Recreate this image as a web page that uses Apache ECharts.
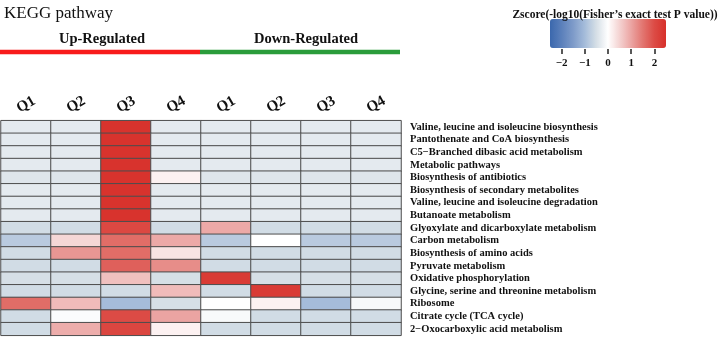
<!DOCTYPE html>
<html>
<head>
<meta charset="utf-8">
<script src="https://cdn.jsdelivr.net/npm/echarts@6/dist/echarts.min.js"></script>
<style>
html, body { margin: 0; padding: 0; background: #fff; }
#main { width: 720px; height: 338px; }
</style>
</head>
<body>
<div id="main"></div>
<script>
var quarters = ['Q1', 'Q2', 'Q3', 'Q4'];
var groups = ['Up-Regulated', 'Down-Regulated'];
var pathways = [
    'Valine, leucine and isoleucine biosynthesis',
    'Pantothenate and CoA biosynthesis',
    'C5\u2212Branched dibasic acid metabolism',
    'Metabolic pathways',
    'Biosynthesis of antibiotics',
    'Biosynthesis of secondary metabolites',
    'Valine, leucine and isoleucine degradation',
    'Butanoate metabolism',
    'Glyoxylate and dicarboxylate metabolism',
    'Carbon metabolism',
    'Biosynthesis of amino acids',
    'Pyruvate metabolism',
    'Oxidative phosphorylation',
    'Glycine, serine and threonine metabolism',
    'Ribosome',
    'Citrate cycle (TCA cycle)',
    '2\u2212Oxocarboxylic acid metabolism'
];
// z-scores per pathway: Up Q1..Q4, Down Q1..Q4
var zValinBio   = [-0.33, -0.33, 2.45, -0.33, -0.33, -0.33, -0.33, -0.33];
var zPanto      = [-0.33, -0.33, 2.45, -0.33, -0.33, -0.33, -0.33, -0.33];
var zC5         = [-0.33, -0.33, 2.45, -0.33, -0.33, -0.33, -0.33, -0.33];
var zMetabolic  = [-0.33, -0.33, 2.45, -0.33, -0.33, -0.33, -0.33, -0.33];
var zAntibio    = [-0.4, -0.4, 2.45, 0.15, -0.4, -0.4, -0.4, -0.4];
var zSecondary  = [-0.33, -0.33, 2.45, -0.33, -0.33, -0.33, -0.33, -0.33];
var zValinDeg   = [-0.33, -0.33, 2.45, -0.33, -0.33, -0.33, -0.33, -0.33];
var zButanoate  = [-0.33, -0.33, 2.45, -0.33, -0.33, -0.33, -0.33, -0.33];
var zGlyoxylate = [-0.55, -0.55, 2.05, -0.55, 0.95, -0.55, -0.55, -0.55];
var zCarbon     = [-0.8, 0.45, 1.6, 0.95, -0.8, 0.0, -0.8, -0.8];
var zAmino      = [-0.55, 1.15, 1.6, 0.3, -0.55, -0.55, -0.55, -0.55];
var zPyruvate   = [-0.55, -0.55, 1.75, 1.25, -0.55, -0.55, -0.55, -0.55];
var zOxidative  = [-0.5, -0.5, 0.7, -0.5, 2.3, -0.5, -0.5, -0.5];
var zGlycine    = [-0.55, -0.55, -0.55, 0.75, -0.55, 2.3, -0.55, -0.55];
var zRibosome   = [1.6, 0.75, -1.0, -0.5, 0.0, 0.15, -1.0, -0.1];
var zCitrate    = [-0.55, -0.05, 2.0, 1.0, -0.08, -0.55, -0.55, -0.55];
var zOxocarbox  = [-0.55, 0.9, 2.1, 0.15, -0.55, -0.55, -0.55, -0.55];
var colorbarTicks = [-2, -1, 0, 1, 2];

var rows = [zValinBio, zPanto, zC5, zMetabolic, zAntibio, zSecondary, zValinDeg, zButanoate,
    zGlyoxylate, zCarbon, zAmino, zPyruvate, zOxidative, zGlycine, zRibosome, zCitrate, zOxocarbox];

// category keys are unique, labels show only the quarter
var colKeys = [];
for (var g = 0; g < groups.length; g++) {
    for (var q = 0; q < quarters.length; q++) {
        colKeys.push(groups[g] + '|' + quarters[q]);
    }
}
var heatData = [];
for (var r = 0; r < rows.length; r++) {
    for (var c = 0; c < rows[r].length; c++) {
        heatData.push([c, r, rows[r][c]]);
    }
}

var serif = '"Liberation Serif", "Times New Roman", serif';
var dom = document.getElementById('main');
var myChart = echarts.init(dom);

var option = {
    animation: false,
    title: [
        {
            text: 'KEGG pathway',
            left: -1, top: 0,
            textStyle: { fontFamily: serif, fontSize: 17, fontWeight: 'normal', color: '#111' }
        },
        {
            text: 'Zscore(-log10(Fisher\u2019s exact test P value))',
            left: 610, top: 4, textAlign: 'center',
            textStyle: { fontFamily: serif, fontSize: 11.5, fontWeight: 'bold', color: '#111' }
        }
    ],
    grid: [
        { left: 1, top: 120.7, width: 400, height: 214.6 },
        { left: 550, top: 48, width: 116, height: 1 }
    ],
    xAxis: [
        {
            type: 'category',
            gridIndex: 0,
            position: 'top',
            data: colKeys,
            axisLine: { show: false },
            axisTick: { show: false },
            splitLine: { show: false },
            axisLabel: {
                rotate: -30,
                align: 'center',
                verticalAlign: 'middle',
                margin: 16,
                fontFamily: serif,
                fontSize: 15,
                fontWeight: 'bold',
                color: '#111',
                formatter: function (v) { return v.split('|')[1]; }
            }
        },
        {
            type: 'value',
            gridIndex: 1,
            min: -2.5,
            max: 2.5,
            axisLine: { show: false },
            splitLine: { show: false },
            axisTick: {
                show: true,
                length: 5,
                customValues: colorbarTicks,
                lineStyle: { color: '#222', width: 1.5 }
            },
            axisLabel: {
                customValues: colorbarTicks,
                margin: 9,
                fontFamily: serif,
                fontSize: 11,
                fontWeight: 'bold',
                color: '#111',
                formatter: function (v) { return v < 0 ? '\u2212' + Math.abs(v) : String(v); }
            }
        }
    ],
    yAxis: [
        {
            type: 'category',
            gridIndex: 0,
            inverse: true,
            position: 'right',
            data: pathways,
            axisLine: { show: false },
            axisTick: { show: false },
            axisLabel: {
                interval: 0,
                align: 'left',
                margin: 9,
                fontFamily: serif,
                fontSize: 10.5,
                fontWeight: 'bold',
                color: '#111'
            }
        },
        {
            type: 'value',
            gridIndex: 1,
            show: false
        }
    ],
    visualMap: {
        type: 'continuous',
        min: -2.5,
        max: 2.5,
        seriesIndex: 0,
        calculable: false,
        orient: 'horizontal',
        left: 550,
        top: 19,
        itemWidth: 29,
        itemHeight: 116,
        padding: 0,
        text: null,
        showLabel: false,
        inRange: {
            color: ['#3b68ad', '#5b80bb', '#7e9bc9', '#a5bcda', '#d6dfe6', '#ffffff',
                '#f4d2d1', '#eba4a2', '#e27570', '#dc4b45', '#d7302a']
        }
    },
    graphic: [
        { type: 'line', shape: { x1: 0, y1: 52, x2: 200, y2: 52 }, style: { stroke: '#f81b1b', lineWidth: 4.5 } },
        { type: 'line', shape: { x1: 200, y1: 52, x2: 400, y2: 52 }, style: { stroke: '#2a9c3b', lineWidth: 4.5 } },
        {
            type: 'text', x: 102, y: 39,
            style: { text: groups[0], align: 'center', verticalAlign: 'middle', font: 'bold 14.5px ' + serif, fill: '#111' }
        },
        {
            type: 'text', x: 306, y: 39,
            style: { text: groups[1], align: 'center', verticalAlign: 'middle', font: 'bold 14.5px ' + serif, fill: '#111' }
        }
    ],
    series: [
        {
            type: 'heatmap',
            xAxisIndex: 0,
            yAxisIndex: 0,
            data: heatData,
            itemStyle: { borderColor: '#4d4d4d', borderWidth: 1 },
            emphasis: { disabled: true }
        }
    ]
};

myChart.setOption(option);
</script>
</body>
</html>
